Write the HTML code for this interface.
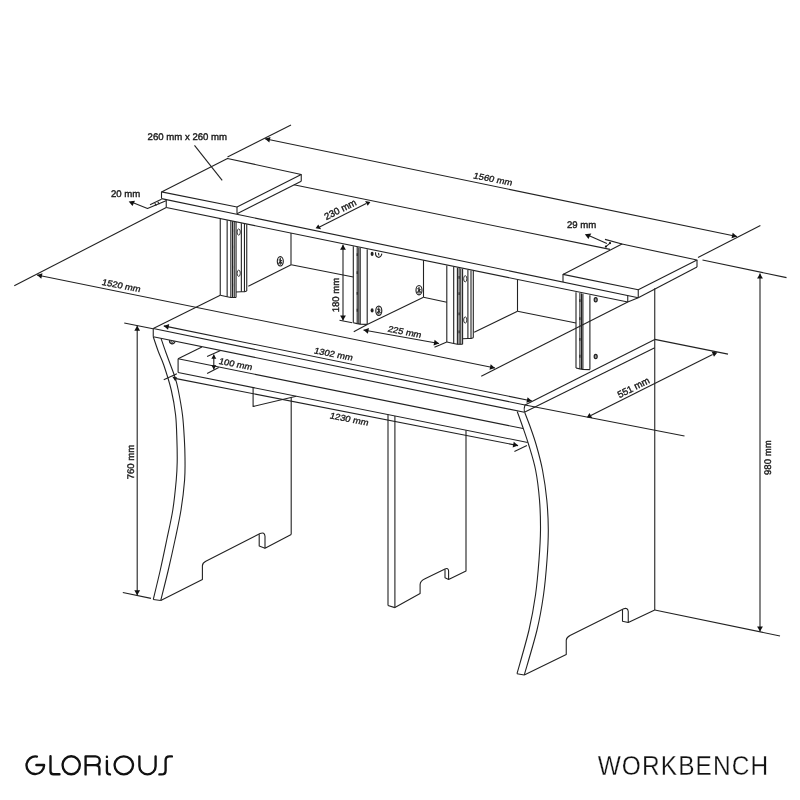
<!DOCTYPE html>
<html><head><meta charset="utf-8"><style>
html,body{margin:0;padding:0;background:#fff;}
body{width:800px;height:800px;overflow:hidden;}
svg{display:block;filter:grayscale(100%);}
.d line,.d path,.d ellipse,.d polygon{stroke:#222;stroke-width:1.1;fill:none;stroke-linecap:butt;stroke-linejoin:round;}
.d polygon.ah{fill:#111;stroke:none;}
.d text{font-family:"Liberation Sans",sans-serif;fill:#1a1a1a;stroke:#1a1a1a;stroke-width:0.38;text-rendering:geometricPrecision;}
</style></head><body>
<svg width="800" height="800" viewBox="0 0 800 800">
<rect width="800" height="800" fill="#fff"/>
<g class="d">
<path d="M161.5 191.9 L227.5 158.5 L301.25 174.5 L237 207 Z"/>
<path d="M161.5 191.9 L161.5 198.6"/>
<path d="M237 207 L237 213.7"/>
<path d="M301.25 174.5 L301.25 181.2"/>
<path d="M237 213.7 L301.25 181.2"/>
<line x1="161.5" y1="198.6" x2="638.25" y2="297.66865"/>
<line x1="166.25" y1="207.5" x2="627.75" y2="302.0152"/>
<line x1="166.25" y1="199.58705" x2="166.25" y2="207.5"/>
<line x1="627.75" y1="295.48675000000003" x2="627.75" y2="302.0152"/>
<line x1="627.75" y1="302.0152" x2="638.25" y2="297.66865"/>
<line x1="293.8" y1="184.75" x2="610" y2="249.4"/>
<path d="M563 274.4 L622 244 L697 260 L638.25 289.7 Z"/>
<line x1="563" y1="274.4" x2="563" y2="282.0317"/>
<line x1="638.25" y1="289.7" x2="638.25" y2="297.66865"/>
<line x1="697" y1="260" x2="697" y2="266.9"/>
<line x1="638.25" y1="297.66865" x2="697" y2="266.9"/>
<line x1="220.25" y1="218.75" x2="220.25" y2="295.25"/>
<line x1="227.15" y1="220.22" x2="227.15" y2="296.75"/>
<line x1="230.85" y1="220.976" x2="230.85" y2="297.45" stroke-width="0.7"/>
<line x1="232.55" y1="221.333" x2="232.55" y2="297.65" stroke-width="1.7" stroke="#111"/>
<line x1="234.25" y1="221.69" x2="234.25" y2="297.65" stroke-width="0.6" stroke="#666"/>
<line x1="236.05" y1="222.068" x2="236.05" y2="297.45" stroke-width="0.9"/>
<line x1="241.35" y1="223.181" x2="241.35" y2="291.75" stroke-width="0.9"/>
<line x1="244.45" y1="223.832" x2="244.45" y2="291.75" stroke-width="0.8"/>
<line x1="246.75" y1="224.315" x2="246.75" y2="290.95" stroke-width="1.9" stroke="#111"/>
<path d="M220.25 295.25 L227.15 296.75 L230.85 297.55 L236.05 297.55"/>
<path d="M236.05 292.05 L241.35 291.75 L244.45 291.75 L246.75 290.95"/>
<ellipse cx="238.7" cy="232.05" rx="1.6" ry="3.1" style="fill:#fff;stroke-width:0.9"/>
<ellipse cx="238.7" cy="273.25" rx="1.6" ry="3.1" style="fill:#fff;stroke-width:0.9"/>
<line x1="232.55" y1="229.15" x2="232.55" y2="231.95000000000002" stroke-width="2.6" stroke="#111"/>
<line x1="232.55" y1="245.45" x2="232.55" y2="248.25" stroke-width="2.6" stroke="#111"/>
<line x1="232.55" y1="265.75" x2="232.55" y2="268.54999999999995" stroke-width="2.6" stroke="#111"/>
<line x1="232.55" y1="283.75" x2="232.55" y2="286.54999999999995" stroke-width="2.6" stroke="#111"/>
<line x1="446.8" y1="265.5" x2="446.8" y2="342"/>
<line x1="453.7" y1="266.97" x2="453.7" y2="343.5"/>
<line x1="457.40000000000003" y1="267.726" x2="457.40000000000003" y2="344.2" stroke-width="0.7"/>
<line x1="459.1" y1="268.083" x2="459.1" y2="344.4" stroke-width="1.7" stroke="#111"/>
<line x1="460.8" y1="268.44" x2="460.8" y2="344.4" stroke-width="0.6" stroke="#666"/>
<line x1="462.6" y1="268.818" x2="462.6" y2="344.2" stroke-width="0.9"/>
<line x1="467.90000000000003" y1="269.931" x2="467.90000000000003" y2="338.5" stroke-width="0.9"/>
<line x1="471.0" y1="270.582" x2="471.0" y2="338.5" stroke-width="0.8"/>
<line x1="473.3" y1="271.065" x2="473.3" y2="337.7" stroke-width="1.9" stroke="#111"/>
<path d="M446.8 342 L453.7 343.5 L457.40000000000003 344.3 L462.6 344.3"/>
<path d="M462.6 338.8 L467.90000000000003 338.5 L471.0 338.5 L473.3 337.7"/>
<ellipse cx="465.25" cy="278.80" rx="1.6" ry="3.1" style="fill:#fff;stroke-width:0.9"/>
<ellipse cx="465.25" cy="320.00" rx="1.6" ry="3.1" style="fill:#fff;stroke-width:0.9"/>
<line x1="459.1" y1="275.90000000000003" x2="459.1" y2="278.7" stroke-width="2.6" stroke="#111"/>
<line x1="459.1" y1="292.20000000000005" x2="459.1" y2="295.0" stroke-width="2.6" stroke="#111"/>
<line x1="459.1" y1="312.5" x2="459.1" y2="315.29999999999995" stroke-width="2.6" stroke="#111"/>
<line x1="459.1" y1="330.5" x2="459.1" y2="333.29999999999995" stroke-width="2.6" stroke="#111"/>
<line x1="353.3" y1="246.25" x2="353.3" y2="322.75"/>
<line x1="357.2" y1="247.069" x2="357.2" y2="323.75" stroke-width="1.8" stroke="#111"/>
<line x1="358.8" y1="247.405" x2="358.8" y2="323.95" stroke-width="0.6" stroke="#666"/>
<line x1="360.2" y1="247.699" x2="360.2" y2="324.15" stroke-width="0.8"/>
<line x1="367.2" y1="249.169" x2="367.2" y2="324.35"/>
<path d="M353.3 322.75 L357.2 323.65 L360.2 324.15 L367.2 324.35"/>
<line x1="357.2" y1="253.25" x2="357.2" y2="256.05" stroke-width="2.6" stroke="#111"/>
<line x1="357.2" y1="271.25" x2="357.2" y2="274.04999999999995" stroke-width="2.6" stroke="#111"/>
<line x1="357.2" y1="292.05" x2="357.2" y2="294.84999999999997" stroke-width="2.6" stroke="#111"/>
<line x1="357.2" y1="308.85" x2="357.2" y2="311.65" stroke-width="2.6" stroke="#111"/>
<line x1="576" y1="292.25" x2="576" y2="368"/>
<line x1="579.9" y1="293.069" x2="579.9" y2="369.0" stroke-width="1.8" stroke="#111"/>
<line x1="581.5" y1="293.405" x2="581.5" y2="369.2" stroke-width="0.6" stroke="#666"/>
<line x1="582.9" y1="293.699" x2="582.9" y2="369.4" stroke-width="0.8"/>
<line x1="589.9" y1="295.169" x2="589.9" y2="369.6"/>
<path d="M576 368 L579.9 368.9 L582.9 369.4 L589.9 369.6"/>
<line x1="579.9" y1="299.25" x2="579.9" y2="302.04999999999995" stroke-width="2.6" stroke="#111"/>
<line x1="579.9" y1="317.25" x2="579.9" y2="320.04999999999995" stroke-width="2.6" stroke="#111"/>
<line x1="579.9" y1="338.05" x2="579.9" y2="340.84999999999997" stroke-width="2.6" stroke="#111"/>
<line x1="579.9" y1="354.85" x2="579.9" y2="357.65" stroke-width="2.6" stroke="#111"/>
<line x1="248.3" y1="286.25" x2="291.2" y2="264.8"/>
<line x1="291.0" y1="233.0488" x2="291.0" y2="264.8"/>
<line x1="291.2" y1="264.8" x2="353.3" y2="277"/>
<line x1="367.7" y1="324.25" x2="423.5" y2="297.25"/>
<line x1="423.5" y1="260.1848" x2="423.5" y2="297.25"/>
<line x1="423.5" y1="297.25" x2="446.8" y2="302.3"/>
<line x1="474.2" y1="332.25" x2="517.5" y2="311.25"/>
<line x1="517.5" y1="279.43600000000004" x2="517.5" y2="311.25"/>
<line x1="517.5" y1="311.25" x2="576" y2="323"/>
<ellipse cx="280.3" cy="261.3" rx="3.0" ry="4.7" style="fill:#fff;stroke-width:1.15"/>
<line x1="280.3" y1="257.77500000000003" x2="280.3" y2="264.825" stroke-width="0.9"/>
<line x1="280.3" y1="261.3" x2="278.5" y2="263.885" stroke-width="0.8"/>
<line x1="280.3" y1="261.3" x2="282.1" y2="263.65000000000003" stroke-width="0.8"/>
<line x1="278.65000000000003" y1="259.65500000000003" x2="281.95" y2="260.83" stroke-width="0.7"/>
<ellipse cx="378.8" cy="310.75" rx="3.0" ry="4.7" style="fill:#fff;stroke-width:1.15"/>
<line x1="378.8" y1="307.225" x2="378.8" y2="314.275" stroke-width="0.9"/>
<line x1="378.8" y1="310.75" x2="377.0" y2="313.335" stroke-width="0.8"/>
<line x1="378.8" y1="310.75" x2="380.6" y2="313.1" stroke-width="0.8"/>
<line x1="377.15000000000003" y1="309.105" x2="380.45" y2="310.28" stroke-width="0.7"/>
<ellipse cx="419" cy="290.2" rx="3.0" ry="4.7" style="fill:#fff;stroke-width:1.15"/>
<line x1="419" y1="286.675" x2="419" y2="293.72499999999997" stroke-width="0.9"/>
<line x1="419" y1="290.2" x2="417.2" y2="292.78499999999997" stroke-width="0.8"/>
<line x1="419" y1="290.2" x2="420.8" y2="292.55" stroke-width="0.8"/>
<line x1="417.35" y1="288.555" x2="420.65" y2="289.72999999999996" stroke-width="0.7"/>
<path d="M375.6 252.3 A3 4.2 0 0 0 381.8 253.6" stroke-width="0.9"/>
<line x1="378.5" y1="252.8" x2="378.9" y2="255.5" stroke-width="0.7"/>
<ellipse cx="372.1" cy="253.9" rx="1.5" ry="2.1" style="fill:#222;stroke:none"/>
<ellipse cx="372.1" cy="310.4" rx="1.5" ry="2.1" style="fill:#222;stroke:none"/>
<ellipse cx="595.7" cy="299.75" rx="1.5" ry="2.2" style="fill:#999;stroke-width:1.2"/>
<ellipse cx="595.7" cy="356.5" rx="1.5" ry="2.2" style="fill:#999;stroke-width:1.2"/>
<line x1="153.25" y1="328.5" x2="525" y2="405"/>
<line x1="153.25" y1="336.75" x2="524.4" y2="412.25"/>
<line x1="153.25" y1="328.5" x2="153.25" y2="336.75"/>
<path d="M525 405 Q523.6 408.5 524.4 412.25" />
<line x1="525" y1="405" x2="654.75" y2="339.5"/>
<line x1="524.4" y1="412.25" x2="654.75" y2="347.75"/>
<line x1="153.25" y1="328.5" x2="220.25" y2="295.25"/>
<line x1="654.75" y1="288.3" x2="654.75" y2="610"/>
<path d="M169.6 340.2 A2.7 3.0 0 0 0 175.0 341.3" style="stroke-width:1.3"/>
<path d="M171.0 340.6 A1.3 1.5 0 0 0 173.6 341.1" style="stroke-width:0.9"/>
<line x1="178.1" y1="358.75" x2="523.1" y2="428.509"/>
<line x1="178.1" y1="372.5" x2="527.75" y2="442.49993"/>
<line x1="178.1" y1="358.75" x2="178.1" y2="372.5"/>
<line x1="178.1" y1="358.75" x2="201.9" y2="346.9" stroke-width="1.8"/>
<line x1="176.2" y1="378.6" x2="518.1" y2="445.6"/>
<polygon class="ah" points="518.10,445.60 512.64,447.49 513.75,441.80"/>
<polygon class="ah" points="172.2,376.5 177.2,377.5 175.25,381.2"/>
<line x1="163.75" y1="379.75" x2="176.9" y2="373.75"/>
<line x1="514.4" y1="451.5" x2="526.9" y2="445.6"/>
<path d="M253.1 387.515 L253.1 406.5 L296.25 396.25"/>
<line x1="291.2" y1="397.5" x2="291.2" y2="534.4"/>
<path d="M153.25 336.75 C154.12 339.29 156.75 347.29 158.5 352 C160.25 356.71 161.62 358.67 163.75 365 C165.88 371.33 169.28 381.67 171.25 390 C173.22 398.33 174.66 406.67 175.6 415 C176.54 423.33 176.63 432.17 176.9 440 C177.17 447.83 177.31 455.33 177.2 462 C177.09 468.67 176.98 472.00 176.25 480 C175.52 488.00 174.39 500.00 172.8 510 C171.21 520.00 168.78 530.00 166.7 540 C164.62 550.00 162.54 560.08 160.3 570 C158.06 579.92 154.43 594.58 153.25 599.5" />
<path d="M161.1 338.6 C161.90 340.92 164.20 347.77 165.9 352.5 C167.60 357.23 169.74 362.75 171.3 367 C172.86 371.25 174.09 374.17 175.25 378 C176.41 381.83 177.04 383.83 178.25 390 C179.46 396.17 181.47 406.67 182.5 415 C183.53 423.33 183.98 432.83 184.4 440 C184.82 447.17 184.97 451.33 185 458 C185.03 464.67 185.27 471.33 184.6 480 C183.93 488.67 182.60 500.00 181 510 C179.40 520.00 177.12 530.00 175 540 C172.88 550.00 170.68 559.92 168.3 570 C165.93 580.08 162.01 595.42 160.75 600.5" />
<line x1="153.25" y1="599.5" x2="160.75" y2="600.5"/>
<path d="M160.75 600.5 L202.4 579.4 L202.4 565.6 Q202.6 562.9 205.8 561.3 L260.1 533.5 Q264.6 531.8 265 536.2 L265 548.2 L291.2 534.4" />
<path d="M259.2 534.2 L259.2 546.1 L265 548.2" />
<path d="M517.25 411.5 C518.12 413.96 520.58 420.67 522.5 426.25 C524.42 431.83 526.57 437.71 528.75 445 C530.93 452.29 533.81 460.83 535.6 470 C537.39 479.17 538.68 490.00 539.5 500 C540.32 510.00 540.58 520.00 540.5 530 C540.42 540.00 539.83 549.17 539 560 C538.17 570.83 537.17 583.33 535.5 595 C533.83 606.67 532.08 616.88 529 630 C525.92 643.12 519.00 666.46 517 673.75" />
<path d="M524.75 412.5 C525.62 414.79 528.08 420.83 530 426.25 C531.92 431.67 534.17 437.71 536.25 445 C538.33 452.29 540.74 460.83 542.5 470 C544.26 479.17 545.83 490.00 546.8 500 C547.77 510.00 548.27 520.00 548.3 530 C548.33 540.00 547.80 549.17 547 560 C546.20 570.83 545.17 583.33 543.5 595 C541.83 606.67 540.21 616.67 537 630 C533.79 643.33 526.38 667.50 524.25 675" />
<line x1="517" y1="673.75" x2="524.25" y2="675"/>
<path d="M524.25 675 L566.25 654.5 L566.25 640.2 Q566.5 637.3 570 635.5 L623.75 608.75 Q627.9 607.2 628.25 611.5 L628.25 622.5 L654.75 610" />
<path d="M622.5 609.6 L622.5 621.25 L628.25 622.5" />
<line x1="388" y1="414.52198" x2="388" y2="605.5"/>
<line x1="394.9" y1="415.90336" x2="394.9" y2="607.6"/>
<line x1="388" y1="605.5" x2="394.9" y2="607.6"/>
<path d="M394.9 607.6 L420.1 593.5 L420.1 584.5 Q420.3 581 425 578.8 L445 568.9 Q448.3 567.6 448.6 570.8 L448.6 579.4 L466 571 L466 430.14" />
<path d="M445 569.2 L445 577.8 L448.6 579.4" />
<line x1="227.5" y1="157" x2="291" y2="125"/>
<line x1="698" y1="257.5" x2="760.4" y2="225.4"/>
<line x1="265" y1="138.75" x2="737" y2="236.5"/>
<polygon class="ah" points="265.00,138.75 270.48,136.92 269.31,142.60"/>
<polygon class="ah" points="737.00,236.50 731.52,238.33 732.69,232.65"/>
<line x1="166.25" y1="207.5" x2="14.25" y2="285.75"/>
<line x1="627.75" y1="302" x2="481.25" y2="376.25"/>
<line x1="37" y1="275" x2="495" y2="368"/>
<polygon class="ah" points="37.00,275.00 42.48,273.15 41.32,278.84"/>
<polygon class="ah" points="495.00,368.00 489.52,369.85 490.68,364.16"/>
<line x1="163.75" y1="325.9" x2="531.9" y2="401"/>
<polygon class="ah" points="163.75,325.90 169.23,324.06 168.07,329.74"/>
<polygon class="ah" points="531.90,401.00 526.42,402.84 527.58,397.16"/>
<line x1="124.25" y1="323" x2="153" y2="328.75"/>
<line x1="122.8" y1="592.5" x2="151" y2="598.4"/>
<line x1="137.2" y1="325.75" x2="137.2" y2="595.2"/>
<polygon class="ah" points="137.20,325.75 140.10,330.75 134.30,330.75"/>
<polygon class="ah" points="137.20,595.20 134.30,590.20 140.10,590.20"/>
<line x1="702.5" y1="260" x2="786.5" y2="277.6"/>
<line x1="654.75" y1="610" x2="780" y2="636"/>
<line x1="760" y1="273.4" x2="760" y2="631.5"/>
<polygon class="ah" points="760.00,273.40 762.90,278.40 757.10,278.40"/>
<polygon class="ah" points="760.00,631.50 757.10,626.50 762.90,626.50"/>
<line x1="654.75" y1="339.4" x2="728" y2="354.1"/>
<line x1="525" y1="405" x2="684.5" y2="436"/>
<line x1="590.8" y1="415.6" x2="712.6" y2="354.4"/>
<polygon class="ah" points="589.5,413.1 586.9,417.2 592.4,418.3"/>
<polygon class="ah" points="711.6,351.4 717.4,352.6 714,356.7"/>
<line x1="319.5" y1="226.9" x2="366.2" y2="203.5"/>
<polygon class="ah" points="315.6,228.3 321.1,229.3 318.3,224.5"/>
<polygon class="ah" points="365.1,201.0 370.4,202.0 367.7,205.8"/>
<line x1="343.0" y1="244.75" x2="343.0" y2="320.5"/>
<polygon class="ah" points="343.00,244.75 345.90,249.75 340.10,249.75"/>
<polygon class="ah" points="343.00,320.50 340.10,315.50 345.90,315.50"/>
<line x1="339.5" y1="320.2" x2="352.25" y2="322.75"/>
<line x1="363.5" y1="330" x2="439" y2="343.5"/>
<polygon class="ah" points="363.50,330.00 368.93,328.03 367.91,333.73"/>
<polygon class="ah" points="439.00,343.50 433.57,345.47 434.59,339.77"/>
<line x1="367.7" y1="324.25" x2="353.75" y2="331.75"/>
<line x1="446.8" y1="342" x2="434.5" y2="347.25"/>
<line x1="213.8" y1="354.4" x2="213.8" y2="369.6"/>
<polygon class="ah" points="213.80,354.40 216.30,358.80 211.30,358.80"/>
<polygon class="ah" points="213.80,369.60 211.30,365.20 216.30,365.20"/>
<line x1="207.1" y1="356.6" x2="220.6" y2="350.6"/>
<line x1="207.1" y1="373.4" x2="218.75" y2="367.5"/>
<path d="M133.8 203.0 L147.5 208.4 L166 200.8" />
<polygon class="ah" points="128.7,201.6 135.0,200.8 132.5,206.1"/>
<line x1="150" y1="204.8" x2="161.5" y2="199.3" stroke-width="0.8"/>
<line x1="154.8" y1="203.2" x2="156.3" y2="205.6" stroke-width="0.7"/>
<line x1="157.8" y1="201.8" x2="159.3" y2="204.2" stroke-width="0.7"/>
<line x1="605" y1="239.4" x2="622" y2="244"/>
<line x1="589.8" y1="236.1" x2="606.9" y2="243.4"/>
<polygon class="ah" points="584.9,234.3 591.3,233.5 588.4,239.0"/>
<line x1="605.6" y1="246.9" x2="610.3" y2="242.8"/>
<circle cx="605.9" cy="246.6" r="1.1" style="fill:#111;stroke:none"/>
<circle cx="610.0" cy="243.1" r="1.1" style="fill:#111;stroke:none"/>
<line x1="194.5" y1="145.4" x2="222.2" y2="180.4"/>
<text x="147.6" y="140.2" font-size="9.6" text-anchor="start" >260 mm x 260 mm</text>
<text x="111" y="196.5" font-size="9.6" text-anchor="start" >20 mm</text>
<text x="566.9" y="228.1" font-size="9.6" text-anchor="start" >29 mm</text>
<text transform="matrix(0.9620 0.1870 -0.2736 0.8679 492.09999999999997 182)" x="0" y="0" font-size="9.6" text-anchor="middle">1560 mm</text>
<text transform="matrix(0.9620 0.1870 -0.2736 0.8679 120.5 288.6)" x="0" y="0" font-size="9.6" text-anchor="middle">1520 mm</text>
<text x="341.7" y="212.4" font-size="9.6" text-anchor="middle" transform="rotate(-26.5 341.7 212.4)" >230 mm</text>
<text x="339.4" y="295" font-size="9.6" text-anchor="middle" transform="rotate(-90 339.4 295)" >180 mm</text>
<text transform="matrix(0.9620 0.1870 -0.2736 0.8679 403.84999999999997 334.7)" x="0" y="0" font-size="9.6" text-anchor="middle">225 mm</text>
<text transform="matrix(0.9620 0.1870 -0.2736 0.8679 332.7 357.05)" x="0" y="0" font-size="9.6" text-anchor="middle">1302 mm</text>
<text transform="matrix(0.9620 0.1870 -0.2736 0.8679 234.8 367.1)" x="0" y="0" font-size="9.6" text-anchor="middle">100 mm</text>
<text transform="matrix(0.9620 0.1870 -0.2736 0.8679 348.45 422.05)" x="0" y="0" font-size="9.6" text-anchor="middle">1230 mm</text>
<text x="634.9" y="390.4" font-size="9.6" text-anchor="middle" transform="rotate(-26.6 634.9 390.4)" >551 mm</text>
<text x="134.25" y="462" font-size="9.6" text-anchor="middle" transform="rotate(-90 134.25 462)" >760 mm</text>
<text x="770.8" y="457.7" font-size="9.6" text-anchor="middle" transform="rotate(-90 770.8 457.7)" >980 mm</text>
</g>

<g fill="none" stroke="#111" stroke-width="2.35" stroke-linecap="round" stroke-linejoin="round">
<path d="M36.9 756.6 A8.8 8.8 0 1 0 44.1 765 L36.4 765"/>
<path d="M50.5 756.2 L50.5 771.2 Q50.5 774.2 53.5 774.2 L59.5 774.2"/>
<ellipse cx="71.2" cy="765.2" rx="8.6" ry="9"/>
<path d="M85.6 774.4 L85.6 756.3 L95.4 756.3 A4.4 4.4 0 0 1 95.4 765.1 L85.6 765.1 M95.4 765.1 Q99.4 765.1 99.4 769 L99.4 774.4"/>
<path d="M106.9 760.8 L106.9 771.2 Q106.9 774.4 110 774.4"/>
<path d="M106.9 756.7 L106.9 756.9"/>
<ellipse cx="123.8" cy="765.3" rx="9.2" ry="9"/>
<path d="M139.4 756.3 L139.4 766.3 A8.1 8.1 0 0 0 155.6 766.3 L155.6 756.3"/>
<path d="M171.9 756.4 L169.6 756.4 Q165.6 756.4 165.6 760.4 L165.6 770.4 Q165.6 774.4 161.6 774.4 L159.4 774.4"/>
</g>

<text transform="translate(597.7 774.6) scale(0.9 1)" x="0" y="0" font-family="Liberation Sans, sans-serif" font-size="27.2" letter-spacing="1.2" fill="#111" stroke="#fff" stroke-width="0.3" paint-order="fill stroke">WORKBENCH</text>
</svg>
</body></html>
